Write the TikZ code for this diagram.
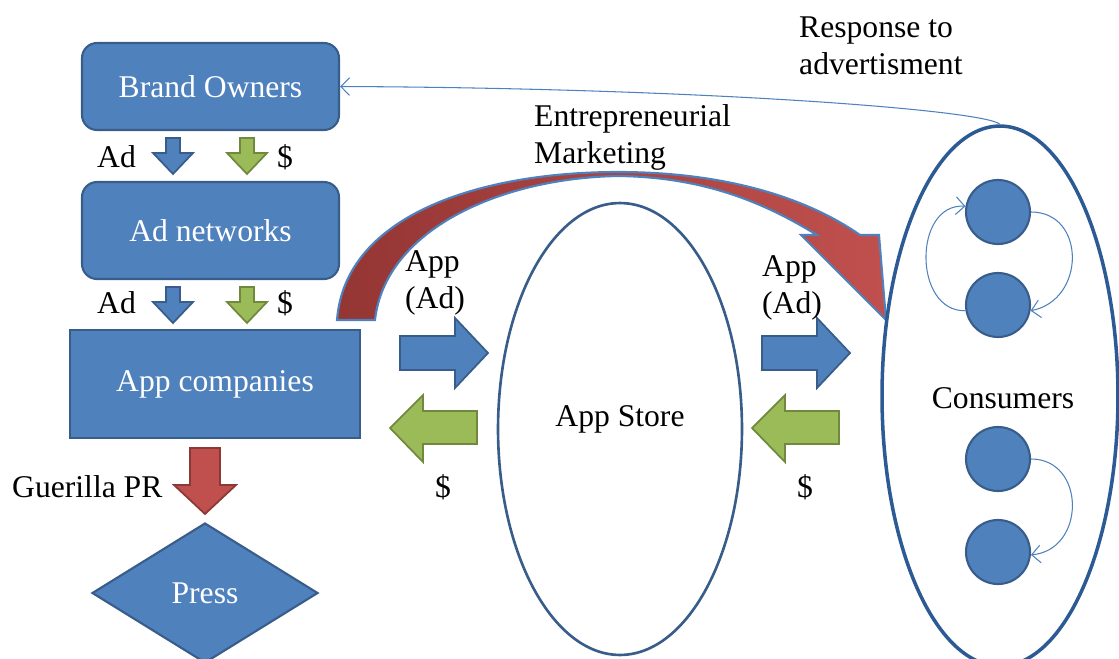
\documentclass[tikz,border=0pt]{standalone}
\usepackage{fontspec}
\setmainfont{Liberation Serif}
\usepackage{xcolor}
\usepackage{tikz}
\usetikzlibrary{calc}
\usetikzlibrary{shapes,arrows,arrows.meta}
\usetikzlibrary{shapes.geometric}
\definecolor{boxblue}{HTML}{4F81BD}
\definecolor{boxline}{HTML}{385D8A}
\definecolor{arrgreen}{HTML}{9BBB59}
\definecolor{greenline}{HTML}{71893F}
\definecolor{arrred}{HTML}{C0504D}
\definecolor{redline}{HTML}{8C3836}
\definecolor{darkred}{HTML}{943634}
\definecolor{ovalline}{HTML}{2C5A94}
\tikzset{
	bluebox/.style={draw=boxline,fill=boxblue,line width=1.2pt,text=white,minimum width=5.14cm},
	bluearrow/.style={draw=boxline,fill=boxblue,line width=1pt},
	greenarrow/.style={draw=greenline,fill=arrgreen,line width=1pt},
	redarrow/.style={draw=redline,fill=arrred,line width=1pt},
	person/.style={circle,draw=boxline,fill=boxblue,line width=1.2pt,minimum size=1.28cm},
	thinarrow/.style={draw=boxblue,line width=0.6pt,-{Straight Barb[length=5pt,width=10pt]}}
}

\begin{document}
\begin{tikzpicture}[x=0.02cm,y=-0.02cm,font=\fontsize{18}{21}\selectfont]
	\useasboundingbox (0,0) rectangle (1119,659);
	% left column
	\node[bluebox,rounded corners=0.3cm,minimum height=1.74cm] (brand) at (210.5,86.5) {Brand Owners};
	\node[bluebox,rounded corners=0.3cm,minimum height=1.94cm] (adnet) at (210.5,230.5) {Ad networks};
	\node[bluebox,minimum width=5.8cm,minimum height=2.16cm] (appco) at (215,384) {App companies};
	\node[diamond,draw=boxline,fill=boxblue,line width=1.2pt,text=white,inner sep=0pt,minimum width=4.52cm,minimum height=2.8cm] (press) at (205,593) {Press};
	\foreach \y/\n in {157/a,303/b}{
		\node[anchor=west] (ad\n) at (91,\y) {Ad};
		\node[anchor=west] (usd\n) at (271,\y) {\$};
	}
	\foreach \y in {138,287}{
		\draw[bluearrow] (173,\y) ++(-7,0) -- ++(14,0) -- ++(0,15) -- ++(13,0) -- ++(-20,21) -- ++(-20,-21) -- ++(13,0) -- cycle;
		\draw[greenarrow] (247,\y) ++(-7,0) -- ++(14,0) -- ++(0,15) -- ++(13,0) -- ++(-20,21) -- ++(-20,-21) -- ++(13,0) -- cycle;
	}
	\draw[redarrow] (190,448) -- (220,448) -- (220,485) -- (236,485) -- (205,514) -- (174,485) -- (190,485) -- cycle;
	\node[anchor=west] (guerilla) at (6,487) {Guerilla PR};

	% entrepreneurial marketing
	\draw[left color=darkred,right color=arrred,draw=boxblue,line width=1.2pt]
		(337,320) .. controls (345,215) and (480,172) .. (618,172)
		.. controls (730,172) and (810,200) .. (860,235) -- (879,235) -- (886,320) -- (801,235) -- (817,235)
		.. controls (760,200) and (700,177) .. (618,176)
		.. controls (500,178) and (385,230) .. (375,320) -- cycle;
	\node[anchor=west,align=left] (entre) at (528,137) {Entrepreneurial\\Marketing};

	% app store and flows
	\node[ellipse,draw=boxline,line width=1.5pt,minimum width=4.88cm,minimum height=9.04cm] (store) at (620,429) {};
	\node (storetxt) at (620,419) {App Store};
	\foreach \dx in {0,362}{
		\begin{scope}[shift={(\dx,0)}]
			\draw[bluearrow] (400,336) -- (455,336) -- (455,318) -- (488,353) -- (455,388) -- (455,370) -- (400,370) -- cycle;
			\draw[greenarrow] (477,411) -- (423,411) -- (423,395) -- (390,428) -- (423,462) -- (423,444) -- (477,444) -- cycle;
		\end{scope}
	}
	\node[anchor=west,align=left] (appad1) at (399,283) {App\\(Ad)};
	\node[anchor=west,align=left] (appad2) at (756,288) {App\\(Ad)};
	\node (usdc) at (443,487) {\$};
	\node (usdd) at (805,487) {\$};

	% consumers
	\node[ellipse,draw=ovalline,line width=2pt,minimum width=4.72cm,minimum height=10.8cm] (cons) at (1000,396) {};
	\node (constxt) at (1003,398) {Consumers};
	\node[person] (c1) at (998,212) {};
	\node[person] (c2) at (998,305) {};
	\node[person] (c3) at (998,459) {};
	\node[person] (c4) at (998,552) {};
	\draw[thinarrow] (c2.190) .. controls (913,312) and (913,203) .. (c1.170);
	\draw[thinarrow] (c1.east) .. controls (1086,212) and (1086,300) .. (c2.-10);
	\draw[thinarrow] (c3.east) .. controls (1086,459) and (1086,550) .. (c4.-5);

	% response
	\draw[thinarrow] (cons.north) .. controls (985,110) and (700,88) .. (brand.east);
	\node[anchor=west,align=left] (resp) at (793,46) {Response to\\advertisment};
\end{tikzpicture}
\end{document}
